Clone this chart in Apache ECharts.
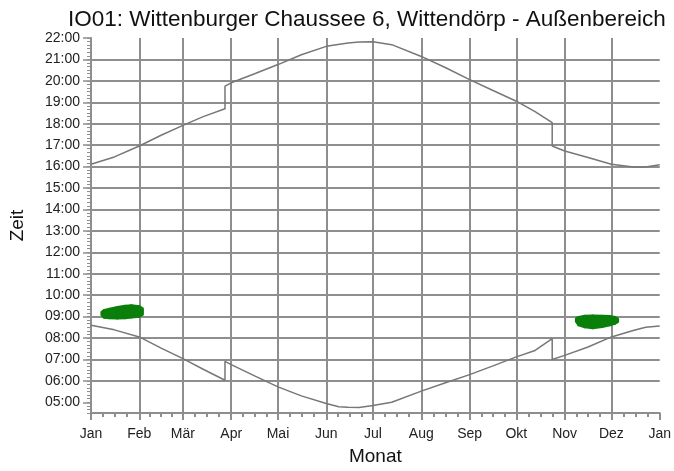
<!DOCTYPE html>
<html>
<head>
<meta charset="utf-8">
<script src="https://cdn.jsdelivr.net/npm/echarts@6/dist/echarts.min.js"></script>
<style>
html,body{margin:0;padding:0;background:#fff;}
#chart{width:674px;height:471px;}
</style>
</head>
<body>
<div id="chart"></div>
<script>
// ---- Data (day of year 0 = 1 Jan, hours as decimal) ----
const monthNames = ['Jan','Feb','Mär','Apr','Mai','Jun','Jul','Aug','Sep','Okt','Nov','Dez','Jan'];
const monthStarts = [0,31,59,90,120,151,181,212,243,273,304,334,365];
const hourTicks = [5,6,7,8,9,10,11,12,13,14,15,16,17,18,19,20,21,22];

const sunsetDays  = [0, 15, 31, 45, 59, 72, 86, 86, 90, 105, 120, 135, 151, 165, 172, 181, 193, 212, 228, 243, 258, 273, 285, 296, 296, 304, 319, 334, 348, 356, 365];
const sunsetHours = [16.11, 16.45, 16.96, 17.46, 17.92, 18.33, 18.70, 19.75, 19.91, 20.33, 20.76, 21.22, 21.61, 21.77, 21.81, 21.82, 21.69, 21.14, 20.60, 20.06, 19.55, 19.05, 18.56, 18.05, 16.96, 16.73, 16.42, 16.11, 15.98, 15.98, 16.08];

const sunriseDays  = [0, 15, 31, 45, 59, 72, 86, 86, 90, 105, 120, 135, 151, 159, 165, 172, 181, 193, 212, 228, 243, 258, 273, 285, 296, 296, 304, 319, 334, 348, 356, 365];
const sunriseHours = [8.60, 8.38, 8.05, 7.53, 7.04, 6.54, 6.03, 6.91, 6.76, 6.23, 5.72, 5.30, 4.94, 4.79, 4.77, 4.76, 4.85, 5.00, 5.52, 5.92, 6.29, 6.70, 7.12, 7.42, 7.97, 7.00, 7.19, 7.58, 8.05, 8.35, 8.50, 8.56];

// shadow periods (green): start and end time per day
const shadow1Days  = [7, 8.5, 12, 17, 22, 26, 31, 33];
const shadow1Start = [9.08, 8.97, 8.94, 8.93, 8.95, 8.98, 9.02, 9.10];
const shadow1End   = [9.20, 9.28, 9.34, 9.42, 9.48, 9.50, 9.46, 9.36];

const shadow2Days  = [311.5, 313, 317, 322, 328, 333, 336, 338];
const shadow2Start = [8.78, 8.62, 8.52, 8.48, 8.54, 8.62, 8.68, 8.76];
const shadow2End   = [8.90, 8.96, 9.02, 9.03, 9.02, 9.00, 8.96, 8.88];

// ---- helpers ----
const pairs = (xs, ys) => xs.map((x, i) => [x, ys[i]]);
// band segments: [day0, start0, end0, day1, start1, end1]
const bandSegments = (d, s, e) => {
  const out = [];
  for (let i = 0; i < d.length - 1; i++) out.push([d[i], s[i], e[i], d[i + 1], s[i + 1], e[i + 1]]);
  return out;
};
const minorX = [];
for (let i = 0; i < monthStarts.length - 1; i++) {
  const a = monthStarts[i], b = monthStarts[i + 1];
  for (let k = 1; k < 4; k++) minorX.push(a + (b - a) * k / 4);
}
const minorY = [];
for (let k = 0; k <= 105; k++) minorY.push((27 + k) / 6);

const gridColor = '#8e8e8e';
const curveColor = '#777777';
const green = '#0a7f0a';
const font = 'Liberation Sans, Arial, sans-serif';

function renderBand(params, api) {
  const a = api.coord([api.value(0), api.value(1)]);
  const b = api.coord([api.value(3), api.value(4)]);
  const c = api.coord([api.value(3), api.value(5)]);
  const d = api.coord([api.value(0), api.value(2)]);
  return {
    type: 'polygon',
    shape: {points: [a, b, c, d]},
    style: {fill: green, stroke: green, lineWidth: 3, lineJoin: 'round'}
  };
}

const chart = echarts.init(document.getElementById('chart'), null, {renderer: 'canvas'});
chart.setOption({
  animation: false,
  backgroundColor: '#ffffff',
  title: {
    text: 'IO01: Wittenburger Chaussee 6, Wittendörp - Außenbereich',
    left: 63, top: 3,
    textStyle: {fontFamily: font, fontSize: 22.5, fontWeight: 'normal', color: '#111'}
  },
  grid: {left: 86, right: 12, top: 38, bottom: 57, containLabel: false},
  xAxis: [{
    type: 'value', min: 0, max: 365,
    name: 'Monat', nameLocation: 'middle', nameGap: 34,
    nameTextStyle: {fontFamily: font, fontSize: 19, color: '#111'},
    axisLine: {show: true, lineStyle: {color: gridColor, width: 2}},
    axisTick: {show: true, length: 7, customValues: monthStarts, lineStyle: {color: gridColor, width: 2}},
    axisLabel: {
      customValues: monthStarts, margin: 14,
      fontFamily: font, fontSize: 14, color: '#222',
      formatter: v => monthNames[monthStarts.indexOf(v)]
    },
    splitLine: {show: true, showMaxLine: false, lineStyle: {color: gridColor, width: 2}}
  }, {
    type: 'value', min: 0, max: 365, position: 'bottom',
    axisLine: {show: false},
    axisTick: {show: true, length: 4, customValues: minorX, lineStyle: {color: gridColor, width: 2}},
    axisLabel: {show: false},
    splitLine: {show: false}
  }],
  yAxis: [{
    type: 'value', min: 4.5, max: 22,
    name: 'Zeit', nameLocation: 'middle', nameGap: 64,
    nameTextStyle: {fontFamily: font, fontSize: 19, color: '#111'},
    axisLine: {show: true, lineStyle: {color: gridColor, width: 2}},
    axisTick: {show: true, length: 8, customValues: hourTicks, lineStyle: {color: gridColor, width: 1.5}},
    axisLabel: {
      customValues: hourTicks, margin: 11,
      fontFamily: font, fontSize: 14, color: '#222',
      formatter: v => (v < 10 ? '0' : '') + v + ':00'
    },
    splitLine: {show: true, showMaxLine: false, showMinLine: false, lineStyle: {color: gridColor, width: 2}}
  }, {
    type: 'value', min: 4.5, max: 22, position: 'left',
    axisLine: {show: false},
    axisTick: {show: true, length: 4, customValues: minorY, lineStyle: {color: gridColor, width: 1}},
    axisLabel: {show: false},
    splitLine: {show: false}
  }],
  series: [
    {
      type: 'line', name: 'Sonnenuntergang', data: pairs(sunsetDays, sunsetHours),
      showSymbol: false, symbol: 'none', smooth: false,
      lineStyle: {color: curveColor, width: 1.5}, z: 3
    },
    {
      type: 'line', name: 'Sonnenaufgang', data: pairs(sunriseDays, sunriseHours),
      showSymbol: false, symbol: 'none', smooth: false,
      lineStyle: {color: curveColor, width: 1.5}, z: 3
    },
    {
      type: 'custom', name: 'Schatten 1', renderItem: renderBand,
      data: bandSegments(shadow1Days, shadow1Start, shadow1End), z: 4
    },
    {
      type: 'custom', name: 'Schatten 2', renderItem: renderBand,
      data: bandSegments(shadow2Days, shadow2Start, shadow2End), z: 4
    }
  ]
});
</script>
</body>
</html>
